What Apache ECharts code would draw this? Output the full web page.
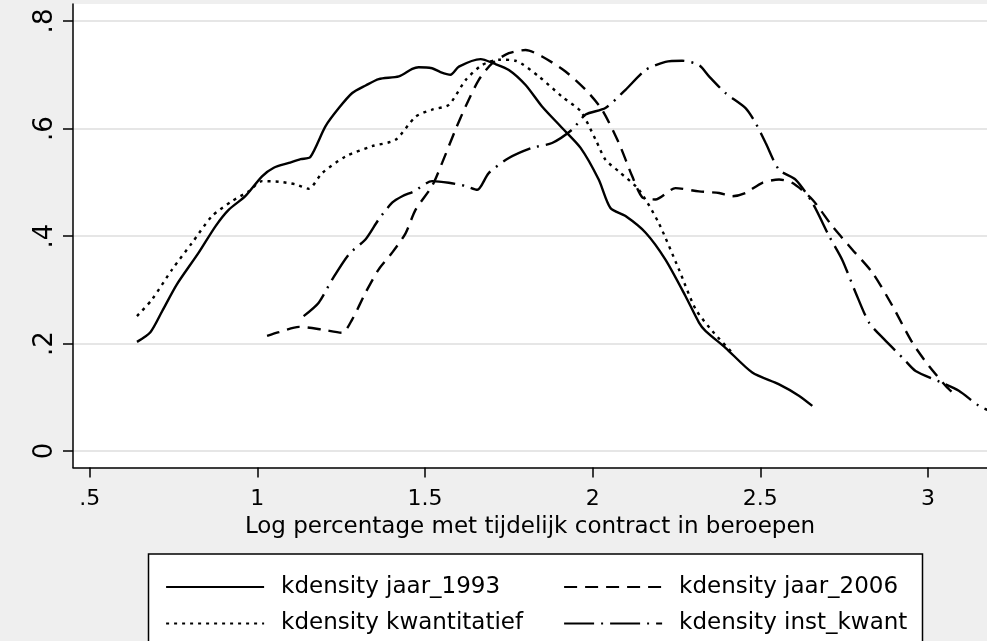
<!DOCTYPE html>
<html>
<head>
<meta charset="utf-8">
<script src="https://cdn.jsdelivr.net/npm/echarts@6/dist/echarts.min.js"></script>
<style>
  html, body { margin: 0; padding: 0; background: #efefef; }
  #chart { width: 987px; height: 641px; }
</style>
</head>
<body>
<div id="chart"></div>
<script>
// tick values and labels
const xTicks = [0.5, 1, 1.5, 2, 2.5, 3];
const xTickLabels = [".5", "1", "1.5", "2", "2.5", "3"];
const yTicks = [0, 0.2, 0.4, 0.6, 0.8];
const yTickLabels = ["0", ".2", ".4", ".6", ".8"];
const xTitle = "Log percentage met tijdelijk contract in beroepen";

const seriesNames = ["kdensity jaar_1993", "kdensity jaar_2006", "kdensity kwantitatief", "kdensity inst_kwant"];

// kdensity jaar_1993 (solid)
const x1993 = [0.641, 0.681, 0.716, 0.760, 0.825, 0.875, 0.915, 0.964, 1.014, 1.049, 1.094, 1.129, 1.158, 1.203, 1.243, 1.283, 1.323, 1.362, 1.422, 1.462, 1.481, 1.521, 1.546, 1.576, 1.601, 1.666, 1.705, 1.750, 1.800, 1.849, 1.909, 1.964, 2.018, 2.053, 2.098, 2.158, 2.217, 2.277, 2.317, 2.337, 2.396, 2.476, 2.556, 2.615, 2.655];
const y1993 = [0.203, 0.221, 0.260, 0.310, 0.369, 0.418, 0.449, 0.474, 0.511, 0.527, 0.536, 0.543, 0.547, 0.604, 0.638, 0.666, 0.680, 0.692, 0.697, 0.711, 0.714, 0.712, 0.705, 0.700, 0.715, 0.729, 0.721, 0.709, 0.681, 0.641, 0.601, 0.564, 0.505, 0.452, 0.437, 0.406, 0.356, 0.288, 0.239, 0.223, 0.192, 0.146, 0.124, 0.103, 0.084];

// kdensity jaar_2006 (dashed)
const x2006 = [1.029, 1.064, 1.124, 1.193, 1.253, 1.283, 1.323, 1.362, 1.402, 1.442, 1.472, 1.521, 1.551, 1.591, 1.621, 1.660, 1.700, 1.750, 1.800, 1.849, 1.919, 1.979, 2.028, 2.078, 2.118, 2.148, 2.187, 2.247, 2.317, 2.377, 2.416, 2.456, 2.506, 2.556, 2.595, 2.655, 2.715, 2.774, 2.834, 2.894, 2.953, 3.003, 3.053, 3.078];
const y2006 = [0.214, 0.221, 0.231, 0.226, 0.220, 0.245, 0.295, 0.338, 0.369, 0.405, 0.449, 0.493, 0.536, 0.598, 0.641, 0.690, 0.721, 0.740, 0.746, 0.734, 0.706, 0.672, 0.635, 0.573, 0.511, 0.472, 0.468, 0.489, 0.483, 0.480, 0.474, 0.480, 0.499, 0.505, 0.499, 0.468, 0.418, 0.375, 0.332, 0.270, 0.202, 0.158, 0.121, 0.106];

// kdensity kwantitatief (dotted)
const xKwant = [0.641, 0.686, 0.746, 0.805, 0.865, 0.925, 0.974, 1.014, 1.064, 1.114, 1.153, 1.193, 1.263, 1.342, 1.412, 1.472, 1.521, 1.571, 1.621, 1.670, 1.720, 1.770, 1.839, 1.909, 1.964, 2.009, 2.038, 2.078, 2.138, 2.197, 2.257, 2.307, 2.357, 2.416];
const yKwant = [0.251, 0.282, 0.338, 0.387, 0.437, 0.465, 0.483, 0.502, 0.501, 0.496, 0.488, 0.517, 0.548, 0.567, 0.579, 0.622, 0.635, 0.644, 0.690, 0.718, 0.728, 0.726, 0.697, 0.659, 0.632, 0.579, 0.542, 0.520, 0.486, 0.424, 0.338, 0.264, 0.223, 0.183];

// kdensity inst_kwant (dash-dot)
const xInst = [1.138, 1.183, 1.223, 1.273, 1.323, 1.362, 1.402, 1.432, 1.467, 1.521, 1.571, 1.621, 1.656, 1.690, 1.750, 1.819, 1.879, 1.939, 1.979, 2.038, 2.098, 2.158, 2.217, 2.267, 2.317, 2.347, 2.396, 2.456, 2.486, 2.516, 2.556, 2.605, 2.655, 2.705, 2.744, 2.784, 2.824, 2.869, 2.928, 2.963, 3.038, 3.092, 3.152, 3.180];
const yInst = [0.251, 0.276, 0.319, 0.366, 0.394, 0.431, 0.462, 0.474, 0.483, 0.502, 0.499, 0.493, 0.486, 0.517, 0.545, 0.564, 0.573, 0.598, 0.626, 0.638, 0.672, 0.709, 0.724, 0.726, 0.718, 0.697, 0.666, 0.638, 0.610, 0.573, 0.523, 0.505, 0.462, 0.400, 0.356, 0.295, 0.239, 0.208, 0.171, 0.149, 0.128, 0.112, 0.084, 0.076];

const FONT = "DejaVu Sans";

function pairs(xs, ys) {
  return xs.map((x, i) => [x, ys[i]]);
}
function tickLabel(ticks, labels) {
  return function (v) {
    const i = ticks.findIndex(t => Math.abs(t - v) < 1e-9);
    return i < 0 ? "" : labels[i];
  };
}
function mkLine(name, xs, ys, dash) {
  return {
    type: "line",
    name: name,
    data: pairs(xs, ys),
    symbol: "none",
    showSymbol: false,
    smooth: 0.25,
    lineStyle: { color: "#000", width: 2.4, type: dash },
    itemStyle: { color: "#000" },
    z: 3,
  };
}

const myChart = echarts.init(document.getElementById("chart"));
const legendCommon = {
  orient: "vertical",
  top: 570.5,
  itemWidth: 98,
  itemHeight: 14,
  itemGap: 13.5,
  selectedMode: false,
  lineStyle: { width: 2.2 },
  itemStyle: { opacity: 0, borderWidth: 0 },
  textStyle: { fontFamily: FONT, fontSize: 23, color: "#000", padding: [0, 0, 0, 12] },
};

const option = {
  animation: false,
  backgroundColor: "#efefef",
  grid: {
    left: 73, right: 0, top: 4, bottom: 173.5,
    show: true, backgroundColor: "#fff", borderWidth: 0,
  },
  xAxis: {
    type: "value",
    min: 0.4502,
    max: 3.176,
    name: xTitle,
    nameLocation: "middle",
    nameGap: 48,
    nameTextStyle: { fontFamily: FONT, fontSize: 23, color: "#000" },
    axisLine: { onZero: false, lineStyle: { color: "#000", width: 1.5 } },
    axisTick: { customValues: xTicks, length: 10, lineStyle: { color: "#000", width: 1.5 } },
    axisLabel: {
      customValues: xTicks, formatter: tickLabel(xTicks, xTickLabels),
      fontFamily: FONT, fontSize: 22, color: "#000", margin: 21,
    },
    splitLine: { show: false },
  },
  yAxis: {
    type: "value",
    min: -0.0307,
    max: 0.8316,
    axisLine: { show: true, onZero: false, lineStyle: { color: "#000", width: 1.5 } },
    axisTick: { customValues: yTicks, length: 10, lineStyle: { color: "#000", width: 1.5 } },
    axisLabel: {
      customValues: yTicks, formatter: tickLabel(yTicks, yTickLabels),
      rotate: 90, fontFamily: FONT, fontSize: 26, color: "#000", margin: 15,
    },
    splitLine: { show: true, lineStyle: { color: "#e6e6e6", width: 2 } },
  },
  legend: [
    Object.assign({}, legendCommon, { left: 160, data: [seriesNames[0], seriesNames[2]] }),
    Object.assign({}, legendCommon, { left: 558, data: [seriesNames[1], seriesNames[3]] }),
  ],
  graphic: [
    {
      type: "rect",
      z: 0,
      shape: { x: 148.5, y: 554, width: 774, height: 120 },
      style: { fill: "#fff", stroke: "#000", lineWidth: 1.5 },
    },
  ],
  series: [
    mkLine(seriesNames[0], x1993, y1993, "solid"),
    mkLine(seriesNames[1], x2006, y2006, [13, 8]),
    mkLine(seriesNames[2], xKwant, yKwant, [3, 5]),
    mkLine(seriesNames[3], xInst, yInst, [30, 7, 2, 7]),
  ],
};
myChart.setOption(option);
</script>
</body>
</html>
